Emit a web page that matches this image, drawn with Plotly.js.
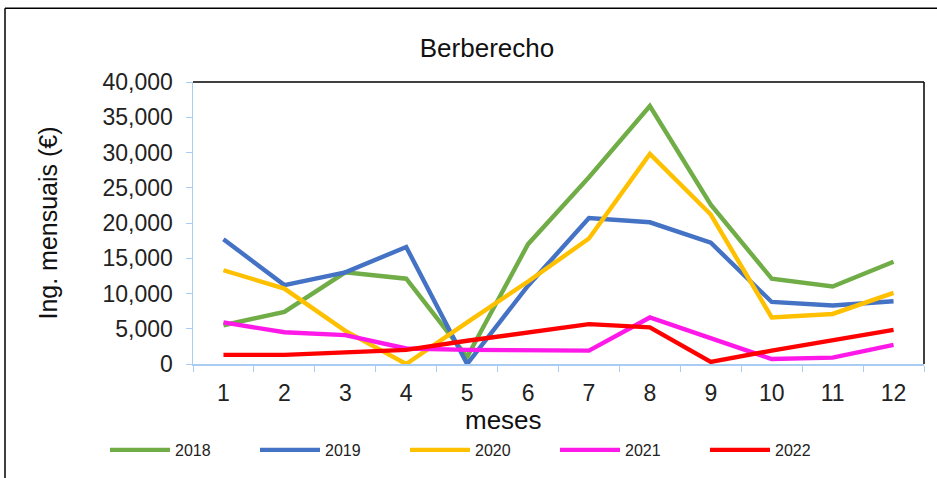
<!DOCTYPE html>
<html>
<head>
<meta charset="utf-8">
<script src="https://cdn.plot.ly/plotly-3.0.1.min.js"></script>
<style>
  html, body { margin: 0; padding: 0; background: #ffffff; }
  #chart { width: 937px; height: 478px; }
</style>
</head>
<body>
<div id="chart"></div>
<script>
const months = ["1","2","3","4","5","6","7","8","9","10","11","12"];
const years = ["2018","2019","2020","2021","2022"];
const v2018 = [5500, 7400, 13000, 12100, 1000, 17000, 26500, 36600, 22600, 12100, 11000, 14500];
const v2019 = [17700, 11200, 13000, 16600, 0, 11100, 20700, 20100, 17200, 8800, 8300, 8900];
const v2020 = [13300, 10700, 4700, 0, 5900, 11700, 17800, 29800, 21200, 6600, 7100, 10100];
const v2021 = [5900, 4500, 4100, 2200, 2000, 1900, 1900, 6600, 3600, 700, 900, 2700];
const v2022 = [1300, 1300, 1650, 2000, 3300, 4500, 5650, 5200, 300, 1900, 3400, 4850];
const colors = ["#70AD47", "#4472C4", "#FFC000", "#FF19E8", "#FF0000"];
const series = [v2018, v2019, v2020, v2021, v2022];

const FONT = "Liberation Sans, Arial, sans-serif";
const axisBlue = "#A9CDF2";

const traces = series.map((vals, i) => ({
  x: months,
  y: vals,
  name: years[i],
  type: "scatter",
  mode: "lines",
  line: { color: colors[i], width: 4.4 }
}));

const L = 193, R = 924, T = 82, B = 365, W = 937, H = 478;
const px = x => (x - L) / (R - L);
const py = y => (B - y) / (B - T);

const layout = {
  width: W, height: H,
  margin: { l: L, r: W - R, t: T, b: H - B, pad: 0 },
  paper_bgcolor: "#ffffff",
  plot_bgcolor: "#ffffff",
  font: { family: FONT, color: "#222222" },
  showlegend: true,
  title: {
    text: "Berberecho",
    font: { family: FONT, size: 26, color: "#111111" },
    x: 487 / W, xanchor: "center",
    y: 1 - 48 / H, yanchor: "middle"
  },
  xaxis: {
    type: "category",
    range: [-0.5, 11.5],
    autorange: false,
    tickson: "boundaries",
    ticks: "outside", ticklen: 6, tickcolor: axisBlue, tickwidth: 1,
    showline: true, linecolor: axisBlue, linewidth: 1.5,
    showgrid: false, zeroline: false,
    tickfont: { family: FONT, size: 23, color: "#222222" },
    ticklabelstandoff: 8,
    automargin: false,
    fixedrange: true
  },
  yaxis: {
    range: [0, 40000],
    autorange: false,
    dtick: 5000, tick0: 0,
    tickformat: ",d",
    ticks: "outside", ticklen: 6, tickcolor: axisBlue, tickwidth: 1,
    showline: true, linecolor: axisBlue, linewidth: 1.5,
    showgrid: false, zeroline: false,
    tickfont: { family: FONT, size: 23, color: "#222222" },
    ticklabelstandoff: 8,
    automargin: false,
    title: { text: "Ing. mensuais (€)", font: { family: FONT, size: 25, color: "#111111" }, standoff: 38 },
    fixedrange: true
  },
  annotations: [
    { text: "meses", xref: "paper", yref: "paper", x: px(503), y: py(421),
      xanchor: "center", yanchor: "middle", showarrow: false,
      font: { family: FONT, size: 26, color: "#111111" } }
  ],
  legend: {
    orientation: "h",
    x: px(105), xanchor: "left",
    y: py(450), yanchor: "middle",
    font: { family: FONT, size: 16, color: "#222222" },
    itemwidth: 60,
    entrywidth: 75, entrywidthmode: "pixels",
    bgcolor: "rgba(0,0,0,0)",
    traceorder: "normal"
  },
  shapes: [
    { type: "line", xref: "paper", yref: "paper", x0: 0, x1: 1, y0: 1, y1: 1, line: { color: "#000000", width: 1.5 } },
    { type: "line", xref: "paper", yref: "paper", x0: 1, x1: 1, y0: 0, y1: 1, line: { color: "#000000", width: 1.5 } },
    { type: "line", xref: "paper", yref: "paper", x0: px(5), x1: px(940), y0: py(8), y1: py(8), line: { color: "#000000", width: 1.5 } },
    { type: "line", xref: "paper", yref: "paper", x0: px(5), x1: px(5), y0: py(8), y1: py(480), line: { color: "#000000", width: 1.5 } }
  ]
};

Plotly.newPlot("chart", traces, layout, { displayModeBar: false, staticPlot: true });
</script>
</body>
</html>
